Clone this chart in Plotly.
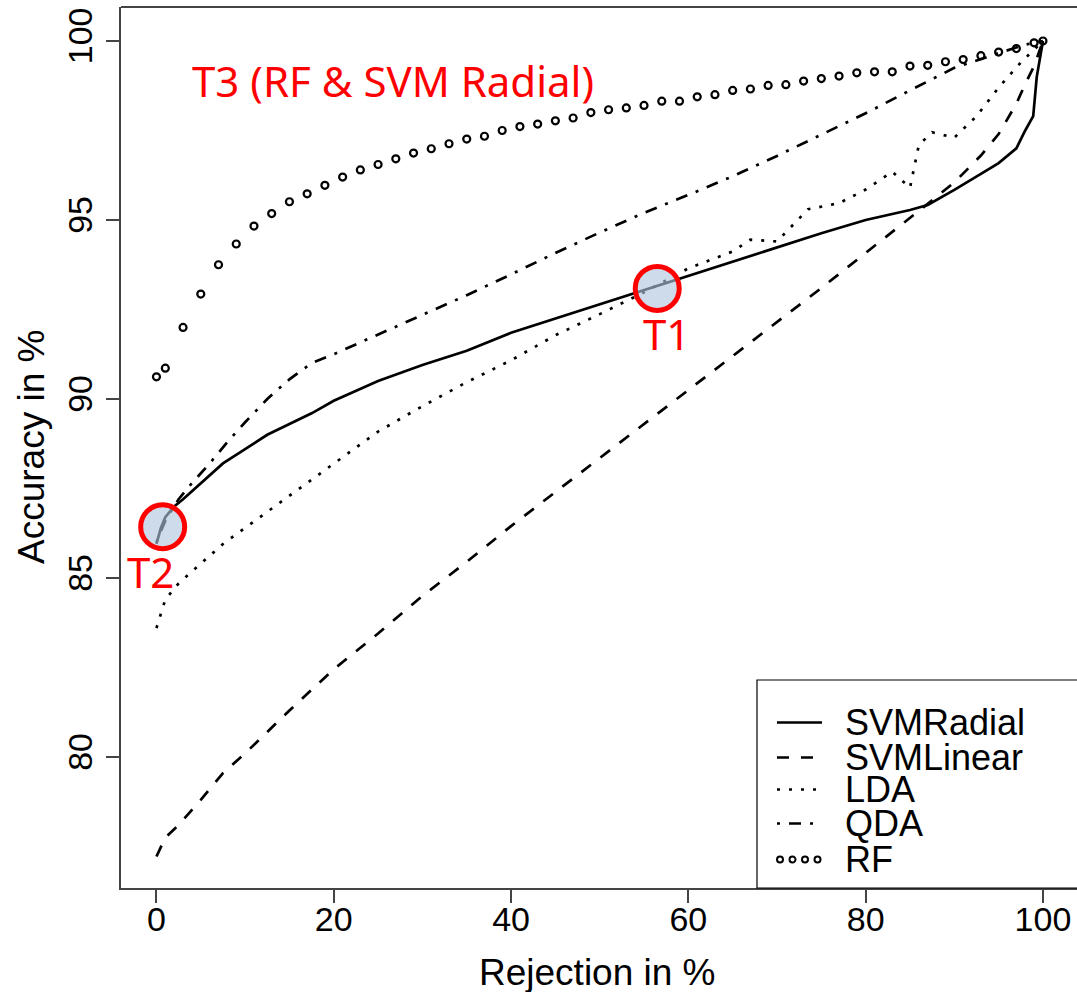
import plotly.graph_objects as go

# ---------------- data ----------------
rej_svmradial = [0, 0.5, 1, 2, 3, 5, 7.5, 10, 12.5, 15, 17.5, 20, 25, 30, 35, 40, 45, 50, 55,
                 60, 65, 70, 75, 80, 85, 87, 90, 93, 95, 97, 98, 98.9, 99.3, 100]
acc_svmradial = [85.95, 86.4, 86.7, 87.0, 87.2, 87.65, 88.2, 88.6, 89.0, 89.3, 89.6, 89.95, 90.5,
                 90.95, 91.35, 91.85, 92.25, 92.65, 93.03, 93.45, 93.85, 94.25, 94.63, 95.0, 95.28,
                 95.42, 95.84, 96.29, 96.59, 97.0, 97.5, 97.9, 99.0, 100.0]

rej_svmlinear = [0, 1, 2.5, 5, 7.5, 10, 15, 20, 25, 30, 35, 40, 45, 50, 55, 60, 65, 70, 75, 80,
                 85, 87, 90, 93, 95, 97, 98, 99, 100]
acc_svmlinear = [77.22, 77.75, 78.1, 78.8, 79.55, 80.1, 81.3, 82.45, 83.45, 84.5, 85.45, 86.45,
                 87.4, 88.35, 89.3, 90.25, 91.2, 92.14, 93.1, 94.08, 95.05, 95.45, 96.05, 96.8,
                 97.4, 98.25, 98.8, 99.3, 100.0]

rej_lda = [0, 1, 2.5, 5, 7.5, 10, 12.5, 15, 17.5, 20, 25, 30, 35, 40, 45, 50, 55, 60, 65, 67,
           70, 73.5, 77, 80, 83, 85, 86, 87.5, 90, 92.5, 95, 97.5, 100]
acc_lda = [83.6, 84.4, 84.85, 85.4, 85.95, 86.4, 86.85, 87.3, 87.75, 88.2, 89.09, 89.8, 90.47,
           91.08, 91.78, 92.37, 92.98, 93.65, 94.12, 94.45, 94.4, 95.3, 95.47, 95.85, 96.35,
           95.9, 97.1, 97.45, 97.3, 97.9, 98.7, 99.4, 100.0]

rej_qda = [0, 1, 2.5, 4, 6, 8, 10, 12.5, 15, 17.5, 20, 25, 30, 35, 40, 45, 50, 55, 60, 65, 70,
           75, 80, 85, 90, 95, 98, 100]
acc_qda = [86.0, 86.6, 87.2, 87.65, 88.2, 88.8, 89.35, 90.0, 90.55, 91.0, 91.25, 91.8, 92.35,
           92.9, 93.48, 94.08, 94.65, 95.2, 95.7, 96.22, 96.79, 97.38, 97.98, 98.62, 99.25,
           99.66, 99.9, 100.0]

rej_rf = [0, 1, 3, 5, 7, 9, 11, 13, 15, 17, 19, 21, 23, 25, 27, 29, 31, 33, 35, 37, 39, 41, 43,
          45, 47, 49, 51, 53, 55, 57, 59, 61, 63, 65, 67, 69, 71, 73, 75, 77, 79, 81, 83, 85,
          87, 89, 91, 93, 95, 97, 99, 100]
acc_rf = [90.62, 90.86, 92.0, 92.93, 93.75, 94.33, 94.83, 95.18, 95.51, 95.73, 95.97, 96.2,
          96.4, 96.55, 96.71, 96.87, 96.99, 97.13, 97.26, 97.34, 97.5, 97.61, 97.68, 97.77,
          97.85, 98.0, 98.08, 98.13, 98.2, 98.32, 98.32, 98.44, 98.5, 98.62, 98.66, 98.76,
          98.78, 98.88, 98.95, 99.02, 99.11, 99.14, 99.14, 99.3, 99.32, 99.42, 99.48, 99.59,
          99.69, 99.79, 99.95, 100.0]

series_names = ["SVMRadial", "SVMLinear", "LDA", "QDA", "RF"]
x_ticks = [0, 20, 40, 60, 80, 100]
y_ticks = [80, 85, 90, 95, 100]
x_title = "Rejection in %"
y_title = "Accuracy in %"
note_t3 = "T3 (RF & SVM Radial)"
note_t1 = "T1"
note_t2 = "T2"

# ---------------- styles ----------------
FONT = "Liberation Sans, Arial, sans-serif"
RED_FONT = "Noto Sans, Open Sans, sans-serif"
DASHES = {
    "SVMRadial": "solid",
    "SVMLinear": "12px,12px",
    "LDA": "3px,9px",
    "QDA": "3px,9px,12px,9px",
}
LW = 2.7

fig = go.Figure()
for name, xs, ys in [("SVMRadial", rej_svmradial, acc_svmradial),
                     ("SVMLinear", rej_svmlinear, acc_svmlinear),
                     ("LDA", rej_lda, acc_lda),
                     ("QDA", rej_qda, acc_qda)]:
    fig.add_trace(go.Scatter(x=xs, y=ys, mode="lines", name=name,
                             line=dict(color="black", width=LW, dash=DASHES[name]),
                             showlegend=False))
fig.add_trace(go.Scatter(x=rej_rf, y=acc_rf, mode="markers", name="RF",
                         marker=dict(symbol="circle-open", size=7, color="black",
                                     line=dict(width=2.2, color="black")),
                         showlegend=False))

# plot area geometry (pixels)
W, H = 1077, 992
L, R, T, B = 121, 0, 7, 104
PW, PH = W - L - R, H - T - B

def px_x(p):
    return (p - L) / PW

def px_y(p):
    return (H - B - p) / PH

shapes = []
annotations = []

# top frame line
shapes.append(dict(type="line", xref="paper", yref="paper", x0=0, x1=1.05, y0=1, y1=1,
                   line=dict(color="#444444", width=2)))

# highlight circles T1, T2
for cx, cy in [(56.49, 93.09), (0.70, 86.43)]:
    shapes.append(dict(type="circle", xref="x", yref="y", xsizemode="pixel", ysizemode="pixel",
                       xanchor=cx, yanchor=cy, x0=-22, x1=22, y0=-22, y1=22,
                       fillcolor="rgba(175,197,222,0.62)", line=dict(color="#ff0000", width=5)))

# legend box
shapes.append(dict(type="rect", xref="paper", yref="paper", x0=px_x(757), x1=1.05,
                   y0=0, y1=px_y(680), line=dict(color="black", width=1.2),
                   fillcolor="rgba(0,0,0,0)"))
rows = [722.5, 757.5, 789.5, 823.5, 859.5]
for name, row in zip(series_names, rows):
    if name == "RF":
        for cxp in [780, 792.5, 805, 817.5]:
            shapes.append(dict(type="circle", xref="paper", yref="paper",
                               xsizemode="pixel", ysizemode="pixel",
                               xanchor=px_x(cxp), yanchor=px_y(row),
                               x0=-3, x1=3, y0=-3, y1=3,
                               line=dict(color="black", width=2)))
    else:
        shapes.append(dict(type="line", xref="paper", yref="paper",
                           x0=px_x(777), x1=px_x(822), y0=px_y(row), y1=px_y(row),
                           line=dict(color="black", width=LW, dash=DASHES[name])))
    annotations.append(dict(text=name, xref="paper", yref="paper", x=px_x(843), y=px_y(row),
                            xanchor="left", yanchor="middle", showarrow=False,
                            font=dict(family=FONT, size=36, color="black")))

# axis titles
annotations.append(dict(text=x_title, xref="paper", yref="paper", x=px_x(597), y=px_y(973),
                        xanchor="center", yanchor="middle", showarrow=False,
                        font=dict(family=FONT, size=37, color="black")))
annotations.append(dict(text=y_title, xref="paper", yref="paper", x=px_x(31), y=px_y(447),
                        xanchor="center", yanchor="middle", showarrow=False, textangle=-90,
                        font=dict(family=FONT, size=37, color="black")))

# red notes
annotations.append(dict(text=note_t3, xref="x", yref="y", x=3.78, y=98.9, xanchor="left",
                        yanchor="middle", showarrow=False,
                        font=dict(family=RED_FONT, size=42, color="#ff0000")))
annotations.append(dict(text=note_t1, xref="x", yref="y", x=57.59, y=91.84, xanchor="center",
                        yanchor="middle", showarrow=False,
                        font=dict(family=RED_FONT, size=42, color="#ff0000")))
annotations.append(dict(text=note_t2, xref="x", yref="y", x=-0.62, y=85.17, xanchor="center",
                        yanchor="middle", showarrow=False,
                        font=dict(family=RED_FONT, size=42, color="#ff0000")))

fig.update_layout(
    width=W, height=H,
    margin=dict(l=L, r=R, t=T, b=B, autoexpand=False),
    plot_bgcolor="white", paper_bgcolor="white",
    showlegend=False,
    shapes=shapes, annotations=annotations,
    xaxis=dict(range=[-4.0, 103.84], tickvals=x_ticks, ticks="outside", ticklen=13,
               tickwidth=1.5, tickcolor="#444444", showline=True, linecolor="#444444",
               linewidth=2, showgrid=False, zeroline=False, automargin=False,
               ticklabelstandoff=-13,
               tickfont=dict(family=FONT, size=34, color="black")),
    yaxis=dict(range=[76.34, 100.95], tickvals=y_ticks, ticks="outside", ticklen=13,
               tickwidth=1.5, tickcolor="#444444", showline=True, linecolor="#444444",
               linewidth=2, showgrid=False, zeroline=False, automargin=False, tickangle=-90,
               tickfont=dict(family=FONT, size=34, color="black")),
)

fig.write_html("out.html",
               config={"displayModeBar": False},
               post_script="document.body.style.margin='0';document.body.style.padding='0';")
